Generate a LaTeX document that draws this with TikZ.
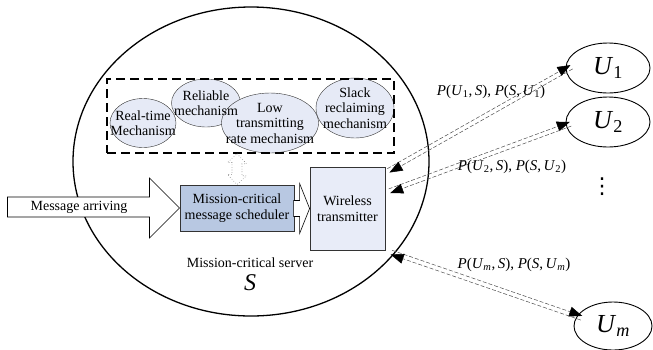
\documentclass[tikz,border=0pt]{standalone}
\usepackage{fontspec}
\setmainfont{Liberation Serif}
\newfontfamily\symfont{DejaVu Sans}
\usetikzlibrary{arrows.meta, shapes.geometric, calc, positioning}

\definecolor{mechfill}{RGB}{230,234,246}
\definecolor{schedfill}{RGB}{184,200,226}
\definecolor{txfill}{RGB}{232,236,248}

\newcommand{\usr}[1]{\textit{U}\textsubscript{#1}}
\newcommand{\linklabel}[1]{\textit{P}(\usr{#1},\,\textit{S}),\ \textit{P}(\textit{S},\,\usr{#1})}

\begin{document}
\begin{tikzpicture}[x=1pt, y=-1pt,
    every node/.style={font=\fontsize{14}{15.5}\selectfont},
    mech/.style={ellipse, draw=black!80, fill=mechfill, inner sep=0pt},
    mechtext/.style={align=center, inner sep=0pt},
    user/.style={ellipse, draw, line width=0.9pt, minimum width=84pt, minimum height=50pt, inner sep=0pt, font=\fontsize{26}{26}\selectfont},
    link/.style={draw=black!70, dash pattern=on 4pt off 2pt, line width=0.5pt, -{Triangle[length=13pt,width=10pt,color=black,fill=black]}},
    linktext/.style={font=\fontsize{15}{15}\selectfont},
    block/.style={draw, line width=0.6pt, fill=white}]
  \useasboundingbox (0,0) rectangle (653,349);

  % server
  \node[ellipse, draw, line width=1.3pt, minimum width=356pt, minimum height=309pt] (server) at (251,161.5) {};

  % mechanisms
  \node[mech, minimum width=66pt, minimum height=49pt] (realtime) at (143,123) {};
  \node[mech, minimum width=69pt, minimum height=48pt] (reliable) at (206,103) {};
  \node[mech, minimum width=97pt, minimum height=60pt] (lowrate) at (270,123) {};
  \node[mech, minimum width=78pt, minimum height=60pt] (slack) at (355,108) {};
  \node[mechtext] at (realtime) {Real-time\\Mechanism};
  \node[mechtext] at (reliable) {Reliable\\mechanism};
  \node[mechtext] at (lowrate) {Low\\transmitting\\rate mechanism};
  \node[mechtext] at (slack) {Slack\\reclaiming\\mechanism};
  \node[draw, line width=1.5pt, dash pattern=on 9pt off 5pt, minimum width=287pt, minimum height=74pt] (mechbox) at (250.5,116) {};

  % scheduler and transmitter
  \node[draw=black!80, line width=1pt, fill=schedfill, minimum width=114pt, minimum height=46pt, align=center] (sched) at (237,208) {Mission-critical\\message scheduler};
  \node[draw=black!80, line width=0.8pt, fill=txfill, minimum width=75pt, minimum height=83pt, align=center] (tx) at (347.5,208.5) {Wireless\\transmitter};

  \coordinate (dtop) at (sched.north |- mechbox.south);
  \draw[dotted, gray, line width=0.6pt] (dtop) -- ++(9.5,10) -- ++(-4.5,0) -- ++(0,12) -- ++(4.5,0) -- (sched.north)
    -- ++(-9.5,-10) -- ++(4.5,0) -- ++(0,-12) -- ++(-4.5,0) -- cycle;

  \draw[block] (sched.west) -- ++(-30,-30) -- ++(0,19) -- ++(-142,0) -- ++(0,20) -- ++(142,0) -- ++(0,21) -- cycle;
  \node (msgtext) at (79,207) {Message arriving};
  \draw[block] (tx.west) -- ++(-10,-25) -- ++(0,17) -- ++(-6,0) -- ++(0,16) -- ++(6,0) -- ++(0,17) -- cycle;

  \node (srvname) at (250,263) {Mission-critical server};
  \node[font=\fontsize{24}{24}\selectfont\itshape] (srvsym) at (250,283) {S};

  % users
  \node[user] (u1) at (608,68) {\usr{1}};
  \node[user] (u2) at (608,122) {\usr{2}};
  \node[user, minimum width=78pt, minimum height=48pt] (um) at (613,326) {\usr{\textit{m}}};
  \node[font=\fontsize{22}{22}\selectfont\symfont] (dots) at (602,187) {⋮};

  \coordinate (t1) at ($(tx.north east)+(3,4)$);
  \coordinate (e1) at ($(u1.west)+(6,-1)$);
  \coordinate (t2) at ($(tx.east)+(4,-17.5)$);
  \coordinate (e2) at ($(u2.west)+(5,2)$);
  \coordinate (t3) at ($(tx.south east)+(6,2)$);
  \coordinate (e3) at ($(um.west)+(8,-8)$);
  \foreach \t/\e in {t1/e1, t2/e2, t3/e3} {
    \draw[link] ($(\t)!2.2pt!90:(\e)$) -- ($(\e)!2.2pt!-90:(\t)$);
    \draw[link] ($(\e)!2.2pt!90:(\t)$) -- ($(\t)!2.2pt!-90:(\e)$);
  }

  \node[linktext] (lab1) at (491,92) {\linklabel{1}};
  \node[linktext] (lab2) at (512,167) {\linklabel{2}};
  \node[linktext] (labm) at (514,265) {\linklabel{\textit{m}}};
\end{tikzpicture}
\end{document}
